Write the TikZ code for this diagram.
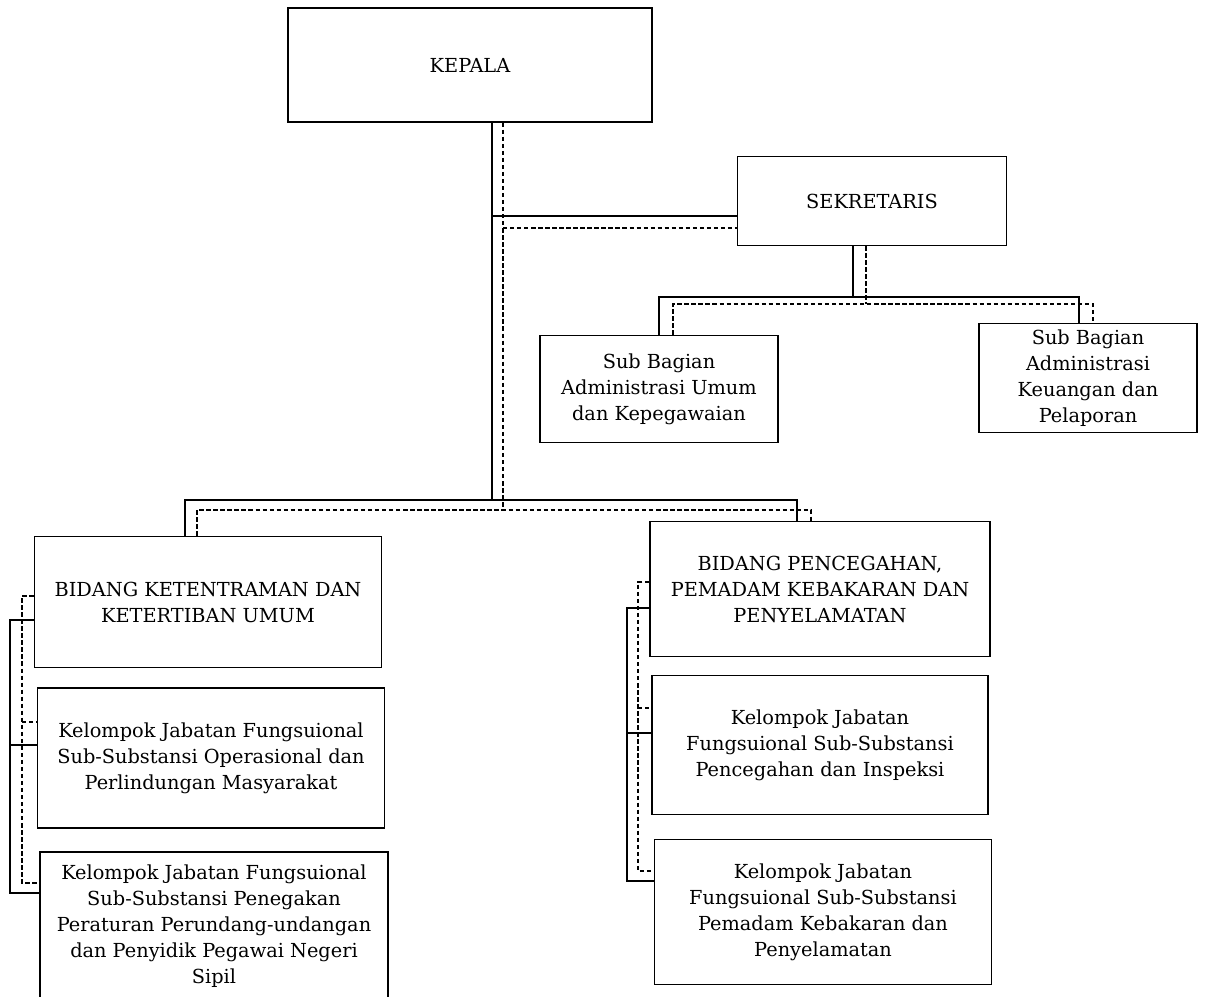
\documentclass[tikz,border=0pt]{standalone}
\usepackage{fontspec}
\setmainfont{DejaVu Serif}
\usetikzlibrary{calc,positioning}

\begin{document}
\begin{tikzpicture}[
		x=0.02cm, y=-0.02cm,
		box/.style={draw, line width=0.8pt, align=center, inner sep=2pt, font=\fontsize{11}{14.8}\selectfont},
		link/.style={line width=0.8pt},
		dlink/.style={line width=0.7pt, dash pattern=on 2.5pt off 1.5pt}
	]
	\useasboundingbox (0,0) rectangle (1205,997);

	% pimpinan
	\node[box, minimum width=7.28cm, minimum height=2.28cm] (kepala) at (470,65) {KEPALA};
	\node[box, minimum width=5.38cm, minimum height=1.78cm] (sekretaris) at (872,201) {SEKRETARIS};

	% sub bagian
	\node[box, minimum width=4.76cm, minimum height=2.14cm] (subumum) at (659,389) {Sub Bagian\\Administrasi Umum\\dan Kepegawaian};
	\node[box, minimum width=4.36cm, minimum height=2.18cm] (subkeu) at (1088,378) {Sub Bagian\\Administrasi\\Keuangan dan\\Pelaporan};

	% bidang kiri
	\node[box, minimum width=6.94cm, minimum height=2.62cm] (bidtram) at (208,602) {BIDANG KETENTRAMAN DAN\\KETERTIBAN UMUM};
	\node[box, minimum width=6.94cm, minimum height=2.80cm] (kjfops) at (211,758) {Kelompok Jabatan Fungsuional\\Sub-Substansi Operasional dan\\Perlindungan Masyarakat};
	\node[box, minimum width=6.96cm, minimum height=2.96cm] (kjfpen) at (214,926) {Kelompok Jabatan Fungsuional\\Sub-Substansi Penegakan\\Peraturan Perundang-undangan\\dan Penyidik Pegawai Negeri\\Sipil};

	% bidang kanan
	\node[box, minimum width=6.80cm, minimum height=2.70cm] (bidcegah) at (820,589) {BIDANG PENCEGAHAN,\\PEMADAM KEBAKARAN DAN\\PENYELAMATAN};
	\node[box, minimum width=6.72cm, minimum height=2.78cm] (kjfcegah) at (820,745) {Kelompok Jabatan\\Fungsuional Sub-Substansi\\Pencegahan dan Inspeksi};
	\node[box, minimum width=6.74cm, minimum height=2.90cm] (kjfpadam) at (823,912) {Kelompok Jabatan\\Fungsuional Sub-Substansi\\Pemadam Kebakaran dan\\Penyelamatan};

	% titik sambung
	\coordinate (trunk)  at (492,500);
	\coordinate (dtrunk) at (503,510);
	\coordinate (sekJ)   at (492,216);
	\coordinate (dsekJ)  at (503,228);
	\coordinate (subJ)   at (853,297);
	\coordinate (dsubJ)  at (866,304);
	\coordinate (subL)   at (659,297);
	\coordinate (subR)   at (1079,297);
	\coordinate (dsubL)  at (673,304);
	\coordinate (dsubR)  at (1093,304);
	\coordinate (bidL)   at (185,500);
	\coordinate (bidR)   at (797,500);
	\coordinate (dbidL)  at (197,510);
	\coordinate (dbidR)  at (811,510);

	% garis komando
	\draw[link] (kepala.south -| trunk) -- (trunk);
	\draw[link] (sekJ) -- (sekJ -| sekretaris.west);
	\draw[link] (sekretaris.south -| subJ) -- (subJ);
	\draw[link] (subumum.north -| subL) |- (subR) -- (subR |- subkeu.north);
	\draw[link] (bidtram.north -| bidL) |- (bidR) -- (bidR |- bidcegah.north);

	% garis koordinasi
	\draw[dlink] (kepala.south -| dtrunk) -- (dtrunk);
	\draw[dlink] (dsekJ) -- (dsekJ -| sekretaris.west);
	\draw[dlink] (sekretaris.south -| dsubJ) -- (dsubJ);
	\draw[dlink] (subumum.north -| dsubL) |- (dsubR) -- (dsubR |- subkeu.north);
	\draw[dlink] (bidtram.north -| dbidL) |- (dbidR) -- (dbidR |- bidcegah.north);

	% kelompok kiri
	\coordinate (kl1) at (10,620);
	\coordinate (kl2) at (10,745);
	\coordinate (kl3) at (10,893);
	\coordinate (dkl1) at (22,596);
	\coordinate (dkl2) at (22,722);
	\coordinate (dkl3) at (22,883);
	\draw[link] (kl1 -| bidtram.west) -- (kl1) -- (kl3) -- (kl3 -| kjfpen.west);
	\draw[link] (kl2) -- (kl2 -| kjfops.west);
	\draw[dlink] (dkl1 -| bidtram.west) -- (dkl1) -- (dkl3) -- (dkl3 -| kjfpen.west);
	\draw[dlink] (dkl2) -- (dkl2 -| kjfops.west);

	% kelompok kanan
	\coordinate (kr1) at (627,608);
	\coordinate (kr2) at (627,733);
	\coordinate (kr3) at (627,881);
	\coordinate (dkr1) at (638,582);
	\coordinate (dkr2) at (638,708);
	\coordinate (dkr3) at (638,871);
	\draw[link] (kr1 -| bidcegah.west) -- (kr1) -- (kr3) -- (kr3 -| kjfpadam.west);
	\draw[link] (kr2) -- (kr2 -| kjfcegah.west);
	\draw[dlink] (dkr1 -| bidcegah.west) -- (dkr1) -- (dkr3) -- (dkr3 -| kjfpadam.west);
	\draw[dlink] (dkr2) -- (dkr2 -| kjfcegah.west);
\end{tikzpicture}
\end{document}
